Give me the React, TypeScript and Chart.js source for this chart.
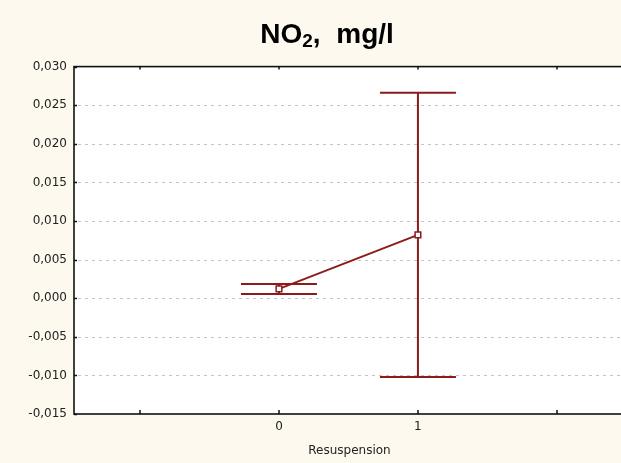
import { useEffect, useRef } from "react";
import { Chart, registerables } from "chart.js";

Chart.register(...registerables);

const titleMain = "NO";
const titleSub = "2";
const titleRest = ", mg/l";
const chartTitle = titleMain + titleSub + titleRest;
const xAxisTitle = "Resuspension";
const categories = [0, 1];
const means = [0.0012, 0.0082];
const errors = [0.00065, 0.0184];
const xTickValues = [-1, 0, 1, 2];
const xTickLabels = ["", "0", "1", ""];
const yTickValues = [-0.015, -0.01, -0.005, 0, 0.005, 0.01, 0.015, 0.02, 0.025, 0.03];
const xRange = [-1.475, 2.49];
const yRange = [-0.015, 0.03];

const RED = "#8c1c1c";
const smallFont = { family: "'DejaVu Sans', sans-serif", size: 12 };
const TITLE_FAMILY = "'Liberation Sans', Arial, sans-serif";

const framePlugin = {
  id: "frameAndErrors",
  beforeDraw(chart: any) {
    const { ctx, chartArea } = chart;
    ctx.save();
    ctx.fillStyle = "#ffffff";
    ctx.fillRect(chartArea.left, chartArea.top, chartArea.right - chartArea.left, chartArea.bottom - chartArea.top);
    ctx.restore();
  },
  beforeDatasetsDraw(chart: any) {
    const { ctx, chartArea, scales } = chart;
    const xs = scales.x;
    const ys = scales.y;
    ctx.save();
    ctx.strokeStyle = "#c4c4c4";
    ctx.lineWidth = 1;
    ctx.setLineDash([3, 4]);
    yTickValues.forEach((v) => {
      const y = Math.round(ys.getPixelForValue(v)) + 0.5;
      if (y <= chartArea.top + 2 || y >= chartArea.bottom - 2) return;
      ctx.beginPath();
      ctx.moveTo(chartArea.left + 4, y);
      ctx.lineTo(chartArea.right, y);
      ctx.stroke();
    });
    ctx.setLineDash([]);
    ctx.strokeStyle = RED;
    ctx.lineWidth = 2;
    const capHalf = 38;
    categories.forEach((c, i) => {
      const x = xs.getPixelForValue(c);
      const yTop = ys.getPixelForValue(means[i] + errors[i]);
      const yBot = ys.getPixelForValue(means[i] - errors[i]);
      ctx.beginPath();
      ctx.moveTo(x, yTop);
      ctx.lineTo(x, yBot);
      ctx.moveTo(x - capHalf, yTop);
      ctx.lineTo(x + capHalf, yTop);
      ctx.moveTo(x - capHalf, yBot);
      ctx.lineTo(x + capHalf, yBot);
      ctx.stroke();
    });
    ctx.restore();
  },
  afterDatasetsDraw(chart: any) {
    const { ctx, chartArea, scales } = chart;
    const xs = scales.x;
    const ys = scales.y;
    ctx.save();
    ctx.strokeStyle = "#111111";
    ctx.lineWidth = 1.6;
    ctx.strokeRect(chartArea.left, chartArea.top, chartArea.right - chartArea.left, chartArea.bottom - chartArea.top);
    ctx.lineWidth = 1.5;
    xTickValues.forEach((v) => {
      const x = Math.round(xs.getPixelForValue(v));
      ctx.beginPath();
      ctx.moveTo(x, chartArea.top);
      ctx.lineTo(x, chartArea.top + 3);
      ctx.moveTo(x, chartArea.bottom);
      ctx.lineTo(x, chartArea.bottom - 4);
      ctx.stroke();
    });
    yTickValues.forEach((v) => {
      const y = Math.round(ys.getPixelForValue(v)) + 0.5;
      ctx.beginPath();
      ctx.moveTo(chartArea.left, y);
      ctx.lineTo(chartArea.left + 3, y);
      ctx.stroke();
    });
    ctx.restore();
  },
  afterDraw(chart: any) {
    // Title with a real subscript
    const { ctx } = chart;
    const mainFont = `bold 28px ${TITLE_FAMILY}`;
    const subFont = `bold 19px ${TITLE_FAMILY}`;
    const gap = 8;
    ctx.save();
    ctx.fillStyle = "#000000";
    ctx.textBaseline = "alphabetic";
    ctx.textAlign = "left";
    ctx.font = mainFont;
    const wMain = ctx.measureText(titleMain).width;
    const [comma, rest] = [titleRest.slice(0, 2), titleRest.slice(2)];
    const wComma = ctx.measureText(comma).width;
    const wRest = ctx.measureText(rest).width;
    ctx.font = subFont;
    const wSub = ctx.measureText(titleSub).width;
    const total = wMain + wSub + wComma + gap + wRest;
    let x = chart.width / 2 - total / 2;
    const base = 43;
    ctx.font = mainFont;
    ctx.fillText(titleMain, x, base);
    x += wMain;
    ctx.font = subFont;
    ctx.fillText(titleSub, x, base + 4);
    x += wSub;
    ctx.font = mainFont;
    ctx.fillText(comma, x, base);
    x += wComma + gap;
    ctx.fillText(rest, x, base);
    ctx.restore();
  },
};

export default function App() {
  const canvasRef = useRef<HTMLCanvasElement | null>(null);

  useEffect(() => {
    if (!canvasRef.current) return;
    const chart = new Chart(canvasRef.current, {
      type: "line",
      data: {
        datasets: [
          {
            data: categories.map((c, i) => ({ x: c, y: means[i] })),
            borderColor: RED,
            borderWidth: 2,
            pointStyle: "rect",
            pointRadius: 4,
            pointBackgroundColor: "#ffffff",
            pointBorderColor: RED,
            pointBorderWidth: 1.5,
            fill: false,
            tension: 0,
          },
        ],
      },
      options: {
        responsive: true,
        maintainAspectRatio: false,
        animation: false,
        layout: { padding: { left: 0, top: 0, bottom: 0, right: 29 } },
        plugins: {
          legend: { display: false },
          tooltip: { enabled: false },
          title: {
            display: true,
            text: chartTitle,
            color: "rgba(0,0,0,0)",
            font: { family: TITLE_FAMILY, size: 28, weight: "bold" },
            padding: { top: 16, bottom: 17 },
          },
        },
        scales: {
          x: {
            type: "linear",
            min: xRange[0],
            max: xRange[1],
            grid: { display: false, drawTicks: false },
            border: { display: false },
            afterBuildTicks: (s: any) => {
              s.ticks = xTickValues.map((v) => ({ value: v }));
            },
            afterFit: (s: any) => {
              s.height = 49;
            },
            ticks: {
              autoSkip: false,
              maxRotation: 0,
              padding: 6,
              color: "#222222",
              font: smallFont,
              callback: (v: any) => {
                const i = xTickValues.indexOf(Number(v));
                return i >= 0 ? xTickLabels[i] : "";
              },
            },
            title: {
              display: true,
              text: xAxisTitle,
              color: "#222222",
              font: smallFont,
              padding: { top: 0, bottom: 5 },
            },
          },
          y: {
            type: "linear",
            min: yRange[0],
            max: yRange[1],
            grid: { display: false, drawTicks: false },
            border: { display: false },
            afterBuildTicks: (s: any) => {
              s.ticks = yTickValues.map((v) => ({ value: v }));
            },
            afterFit: (s: any) => {
              s.width = 74;
            },
            ticks: {
              padding: 7,
              color: "#222222",
              font: smallFont,
              callback: (v: any) => Number(v).toFixed(3).replace(".", ","),
            },
          },
        },
      },
      plugins: [framePlugin],
    } as any);
    return () => chart.destroy();
  }, []);

  return (
    <div
      style={{
        position: "fixed",
        left: 0,
        top: 0,
        width: 654,
        height: 463,
        background: "#fef9ee",
      }}
    >
      <canvas ref={canvasRef} />
    </div>
  );
}
